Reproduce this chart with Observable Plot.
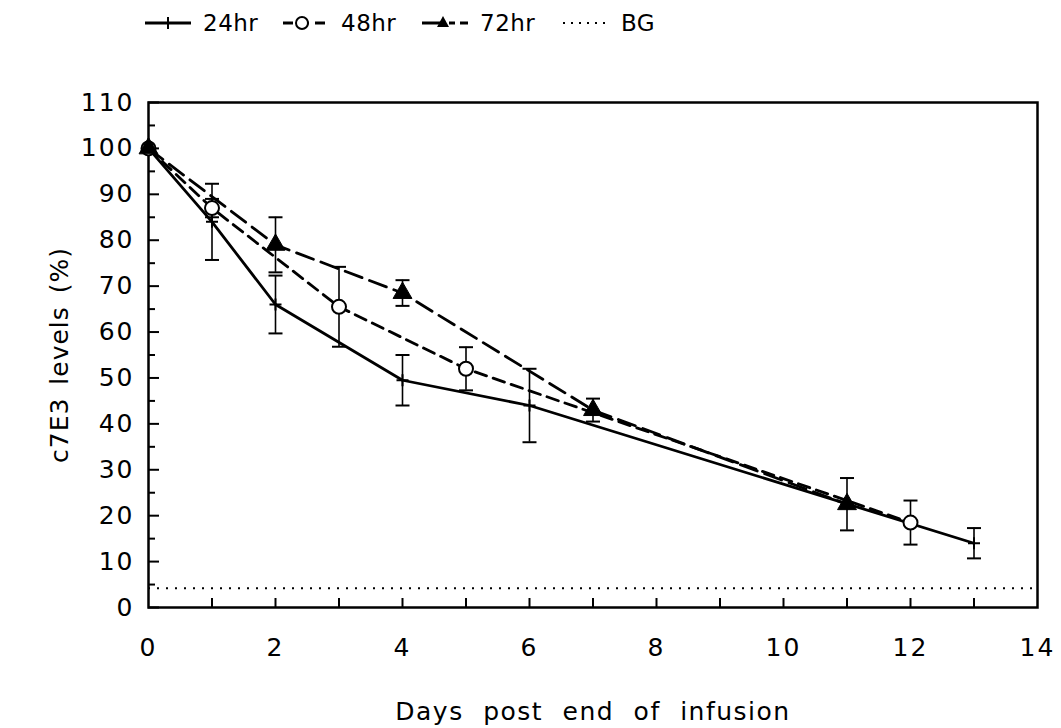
<!DOCTYPE html>
<html>
<head>
<meta charset="utf-8">
<script src="https://cdn.jsdelivr.net/npm/d3@7"></script>
<script src="https://cdn.jsdelivr.net/npm/@observablehq/plot@0.6"></script>
<style>
  html, body { margin: 0; padding: 0; background: #fff; }
  #legend { position: relative; width: 1061px; height: 50px; font-family: "DejaVu Sans", sans-serif; font-size: 23px; color: #000; }
  #legend .item { position: absolute; top: 6px; height: 34px; display: flex; align-items: center; }
  #legend svg { display: block; }
  #legend span { margin-left: 12px; letter-spacing: 0.5px; }
  #chart g[aria-label="x-axis tick label"] text,
  #chart g[aria-label="y-axis tick label"] text { letter-spacing: 2px; }
  #chart g[aria-label="x-axis label"] text { letter-spacing: 1.5px; word-spacing: 10px; }
  #chart g[aria-label="y-axis label"] text { letter-spacing: 1px; word-spacing: 4px; }
</style>
</head>
<body>
<div id="legend"></div>
<div id="chart"></div>
<script>
// ---- data ----
const seriesNames = ["24hr", "48hr", "72hr"];
const days24 = [0, 1, 2, 4, 6, 13];
const vals24 = [100, 84, 66, 49.5, 44, 14];
const sd24   = [null, 8.3, 6.3, 5.5, 8, 3.3];
const days48 = [0, 1, 3, 5, 12];
const vals48 = [100, 87, 65.5, 52, 18.5];
const sd48   = [null, 2, 8.7, 4.7, 4.8];
const days72 = [0, 2, 4, 7, 11];
const vals72 = [100, 79, 68.5, 43, 22.5];
const sd72   = [null, 6, 2.8, 2.5, 5.7];
const bgLevel = [4.2];
const xTicks = [0, 2, 4, 6, 8, 10, 12, 14];
const xMinorTicks = [1, 2, 3, 4, 5, 6, 7, 8, 9, 10, 11, 12, 13];
const yTicks = [0, 10, 20, 30, 40, 50, 60, 70, 80, 90, 100, 110];
const yMinorTicks = [5, 15, 25, 35, 45, 55, 65, 75, 85, 95, 105];

const build = (name, days, vals, sds) => days.map((d, i) => ({series: name, day: d, value: vals[i], sd: sds[i]}));
const s24 = build("24hr", days24, vals24, sd24);
const s48 = build("48hr", days48, vals48, sd48);
const s72 = build("72hr", days72, vals72, sd72);
const all = [...s24, ...s48, ...s72];
const bars = all.filter(d => d.sd != null);

const capSymbol = {draw(ctx, size) { const w = Math.sqrt(size / Math.PI); ctx.moveTo(-w, 0); ctx.lineTo(w, 0); }};
const plusSymbol = {draw(ctx, size) { const w = Math.sqrt(size / Math.PI); ctx.moveTo(-w, 0); ctx.lineTo(w, 0); ctx.moveTo(0, -w); ctx.lineTo(0, w); }};

const dash = {"24hr": null, "48hr": "12,7", "72hr": "18,8"};
const lw = 2.8;
const majorTick = 11, minorTick = 7, xTick = 9;

const chart = Plot.plot({
  width: 1061,
  height: 678,
  marginTop: 52,
  marginBottom: 121,
  marginLeft: 148,
  marginRight: 24,
  style: {fontFamily: "DejaVu Sans, sans-serif", fontSize: "25px", color: "#000", background: "#fff"},
  x: {domain: [0, 14]},
  y: {domain: [0, 110]},
  marks: [
    Plot.frame({stroke: "#000", strokeWidth: 2.5}),
    Plot.axisX({ticks: xTicks, tickSize: 0, tickPadding: 31, fontSize: 25,
      label: "Days post end of infusion", labelAnchor: "center", labelArrow: "none", labelOffset: 112}),
    Plot.axisX({ticks: xMinorTicks, tickSize: xTick, dy: -xTick, text: null, label: null, strokeWidth: 2}),
    Plot.axisY({ticks: yTicks, tickSize: 0, tickPadding: 14, fontSize: 25,
      label: "c7E3 levels (%)", labelAnchor: "center", labelArrow: "none", labelOffset: 98}),
    Plot.axisY({ticks: yTicks, tickSize: majorTick, dx: majorTick, text: null, label: null, strokeWidth: 2}),
    Plot.axisY({ticks: yMinorTicks, tickSize: minorTick, dx: minorTick, text: null, label: null, strokeWidth: 2}),
    Plot.ruleY(bgLevel, {stroke: "#000", strokeWidth: 2, strokeDasharray: "2,7"}),
    Plot.ruleX(bars, {x: "day", y1: d => d.value - d.sd, y2: d => d.value + d.sd, stroke: "#000", strokeWidth: 1.6}),
    Plot.dot(bars, {x: "day", y: d => d.value - d.sd, symbol: capSymbol, r: 7, stroke: "#000", strokeWidth: 2}),
    Plot.dot(bars, {x: "day", y: d => d.value + d.sd, symbol: capSymbol, r: 7, stroke: "#000", strokeWidth: 2}),
    Plot.line(s24, {x: "day", y: "value", stroke: "#000", strokeWidth: lw}),
    Plot.line(s48, {x: "day", y: "value", stroke: "#000", strokeWidth: lw, strokeDasharray: dash["48hr"]}),
    Plot.line(s72, {x: "day", y: "value", stroke: "#000", strokeWidth: lw, strokeDasharray: dash["72hr"]}),
    Plot.dot(s24, {x: "day", y: "value", symbol: plusSymbol, r: 6, stroke: "#000", strokeWidth: 2}),
    Plot.dot(s48, {x: "day", y: "value", symbol: "circle", r: 7, stroke: "#000", fill: "#fff", strokeWidth: 2}),
    Plot.dot(s72, {x: "day", y: "value", symbol: "triangle", r: 7, fill: "#000", stroke: "#000", strokeWidth: 1})
  ]
});
document.getElementById("chart").appendChild(chart);

// ---- legend (HTML above the SVG) ----
const legendItems = [
  {name: seriesNames[0], left: 145, dash: null, marker: "plus"},
  {name: seriesNames[1], left: 283, dash: "10,6", marker: "circle"},
  {name: seriesNames[2], left: 422, dash: "22,5,6,5", marker: "triangle"},
  {name: "BG", left: 563, dash: "2,6", marker: null}
];
const legend = document.getElementById("legend");
for (const it of legendItems) {
  const div = document.createElement("div");
  div.className = "item";
  div.style.left = it.left + "px";
  const w = 46;
  let svg = `<svg width="${w}" height="20" viewBox="0 0 ${w} 20">`;
  svg += `<line x1="0" x2="${w}" y1="10" y2="10" stroke="#000" stroke-width="${it.marker ? 2.8 : 2}" ${it.dash ? `stroke-dasharray="${it.dash}"` : ""}/>`;
  if (it.marker === "plus") svg += `<line x1="${w/2}" x2="${w/2}" y1="4" y2="16" stroke="#000" stroke-width="2"/>`;
  if (it.marker === "circle") svg += `<circle cx="${w/2 - 4}" cy="10" r="6" fill="#fff" stroke="#000" stroke-width="2"/>`;
  if (it.marker === "triangle") svg += `<path d="M${w/2 - 2},3 L${w/2 + 4},14 L${w/2 - 8},14 Z" fill="#000"/>`;
  svg += `</svg>`;
  div.innerHTML = svg + `<span>${it.name}</span>`;
  legend.appendChild(div);
}
</script>
</body>
</html>
